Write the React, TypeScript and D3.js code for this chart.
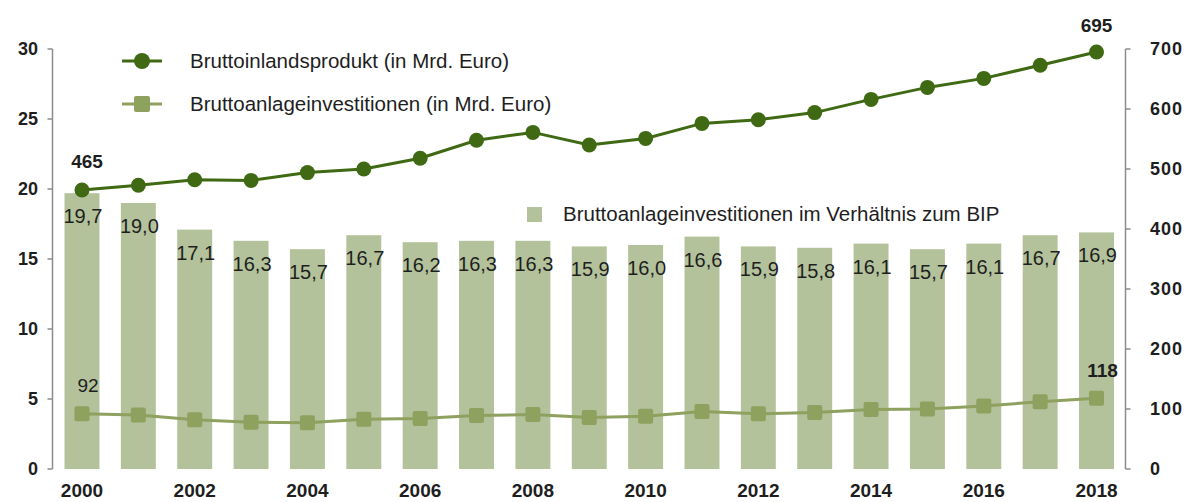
import React from "react";
import * as d3 from "d3";

const years = [2000,2001,2002,2003,2004,2005,2006,2007,2008,2009,2010,2011,2012,2013,2014,2015,2016,2017,2018];
const ratioBip = [19.7,19.0,17.1,16.3,15.7,16.7,16.2,16.3,16.3,15.9,16.0,16.6,15.9,15.8,16.1,15.7,16.1,16.7,16.9];
const gdp = [465,473,482,481,494,500,518,548,561,540,551,576,582,594,616,636,651,673,695];
const investment = [92,90,82,78,77,83,84,89,91,86,88,96,92,94,99,100,105,112,118];
const leftTicks = [0,5,10,15,20,25,30];
const rightTicks = [0,100,200,300,400,500,600,700];
const xTickYears = [2000,2002,2004,2006,2008,2010,2012,2014,2016,2018];
const legendLabels = [
  "Bruttoinlandsprodukt (in Mrd. Euro)",
  "Bruttoanlageinvestitionen (in Mrd. Euro)",
  "Bruttoanlageinvestitionen im Verhältnis zum BIP",
];

const W = 1190, H = 502;
const BAR = "#b3c29b";
const DARK = "#3f6912";
const MID = "#8ea15f";
const AXIS = "#8c8c8c";
const TXT = "#1e1e1e";
const FONT = "'Liberation Sans', Arial, sans-serif";

export default function App() {
  const x = d3.scaleBand<number>().domain(years).range([53.8, 1124.7]).paddingInner(0.38).paddingOuter(0.19);
  const yL = d3.scaleLinear().domain([0, 30]).range([469, 49]);
  const yR = d3.scaleLinear().domain([0, 700]).range([469, 49]);
  const cx = (yr: number) => (x(yr) as number) + x.bandwidth() / 2;

  const gdpLine = d3.line<number>().x((_, i) => cx(years[i])).y((d) => yR(d))(gdp) as string;
  const invLine = d3.line<number>().x((_, i) => cx(years[i])).y((d) => yR(d))(investment) as string;

  const sq = 15;
  const last = years.length - 1;

  return (
    <svg width={W} height={H} style={{ position: "absolute", left: 0, top: 0, display: "block", background: "#fff" }} fontFamily={FONT}>
      {/* bars */}
      {years.map((yr, i) => (
        <rect key={"b" + yr} x={x(yr)} y={yL(ratioBip[i])} width={x.bandwidth()} height={yL(0) - yL(ratioBip[i])} fill={BAR} />
      ))}
      {years.map((yr, i) => (
        <text key={"bl" + yr} x={cx(yr) + 1} y={yL(ratioBip[i]) + 30} textAnchor="middle" fontSize={20} fill={TXT}>
          {ratioBip[i].toFixed(1).replace(".", ",")}
        </text>
      ))}

      {/* left axis */}
      <line x1={52.5} x2={52.5} y1={yL(30)} y2={yL(0)} stroke={AXIS} strokeWidth={1.5} />
      {leftTicks.map((t) => (
        <g key={"lt" + t}>
          <line x1={47.5} x2={52.5} y1={yL(t)} y2={yL(t)} stroke={AXIS} strokeWidth={1.5} />
          <text x={38} y={yL(t)} dy="0.36em" textAnchor="end" fontSize={18} fontWeight="bold" fill={TXT}>{t}</text>
        </g>
      ))}

      {/* right axis */}
      <line x1={1125.5} x2={1125.5} y1={yR(700)} y2={yR(0)} stroke={AXIS} strokeWidth={1.5} />
      {rightTicks.map((t) => (
        <g key={"rt" + t}>
          <line x1={1125.5} x2={1130.5} y1={yR(t)} y2={yR(t)} stroke={AXIS} strokeWidth={1.5} />
          <text x={1150} y={yR(t)} dy="0.36em" textAnchor="start" fontSize={18} fontWeight="bold" fill={TXT} letterSpacing={1}>{t}</text>
        </g>
      ))}

      {/* x labels */}
      {xTickYears.map((yr) => (
        <text key={"xl" + yr} x={cx(yr)} y={497} textAnchor="middle" fontSize={19} fontWeight="bold" fill={TXT}>{yr}</text>
      ))}

      {/* investment line */}
      <path d={invLine} fill="none" stroke={MID} strokeWidth={3} />
      {years.map((yr, i) => (
        <rect key={"s" + yr} x={cx(yr) - sq / 2} y={yR(investment[i]) - sq / 2} width={sq} height={sq} rx={2} fill={MID} />
      ))}

      {/* gdp line */}
      <path d={gdpLine} fill="none" stroke={DARK} strokeWidth={3} />
      {years.map((yr, i) => (
        <circle key={"c" + yr} cx={cx(yr)} cy={yR(gdp[i])} r={7.5} fill={DARK} />
      ))}

      {/* point labels */}
      <text x={cx(years[0]) + 5} y={yR(gdp[0]) - 22} textAnchor="middle" fontSize={19} fontWeight="bold" fill={TXT}>{gdp[0]}</text>
      <text x={cx(years[last])} y={yR(gdp[last]) - 20} textAnchor="middle" fontSize={19} fontWeight="bold" fill={TXT}>{gdp[last]}</text>
      <text x={cx(years[0]) + 6} y={yR(investment[0]) - 22} textAnchor="middle" fontSize={19} fill={TXT}>{investment[0]}</text>
      <text x={cx(years[last]) + 6} y={yR(investment[last]) - 21} textAnchor="middle" fontSize={19} fontWeight="bold" fill={TXT}>{investment[last]}</text>

      {/* legend */}
      <line x1={122} x2={162} y1={61} y2={61} stroke={DARK} strokeWidth={3} />
      <circle cx={142} cy={61} r={8} fill={DARK} />
      <text x={190} y={61} dy="0.36em" fontSize={20.5} fill={TXT}>{legendLabels[0]}</text>

      <line x1={122} x2={162} y1={104} y2={104} stroke={MID} strokeWidth={3} />
      <rect x={142 - 8} y={104 - 8} width={16} height={16} rx={2} fill={MID} />
      <text x={190} y={104} dy="0.36em" fontSize={20.5} fill={TXT}>{legendLabels[1]}</text>

      <rect x={527} y={207} width={15} height={15} fill={BAR} />
      <text x={563} y={214} dy="0.36em" fontSize={20.5} fill={TXT}>{legendLabels[2]}</text>
    </svg>
  );
}
